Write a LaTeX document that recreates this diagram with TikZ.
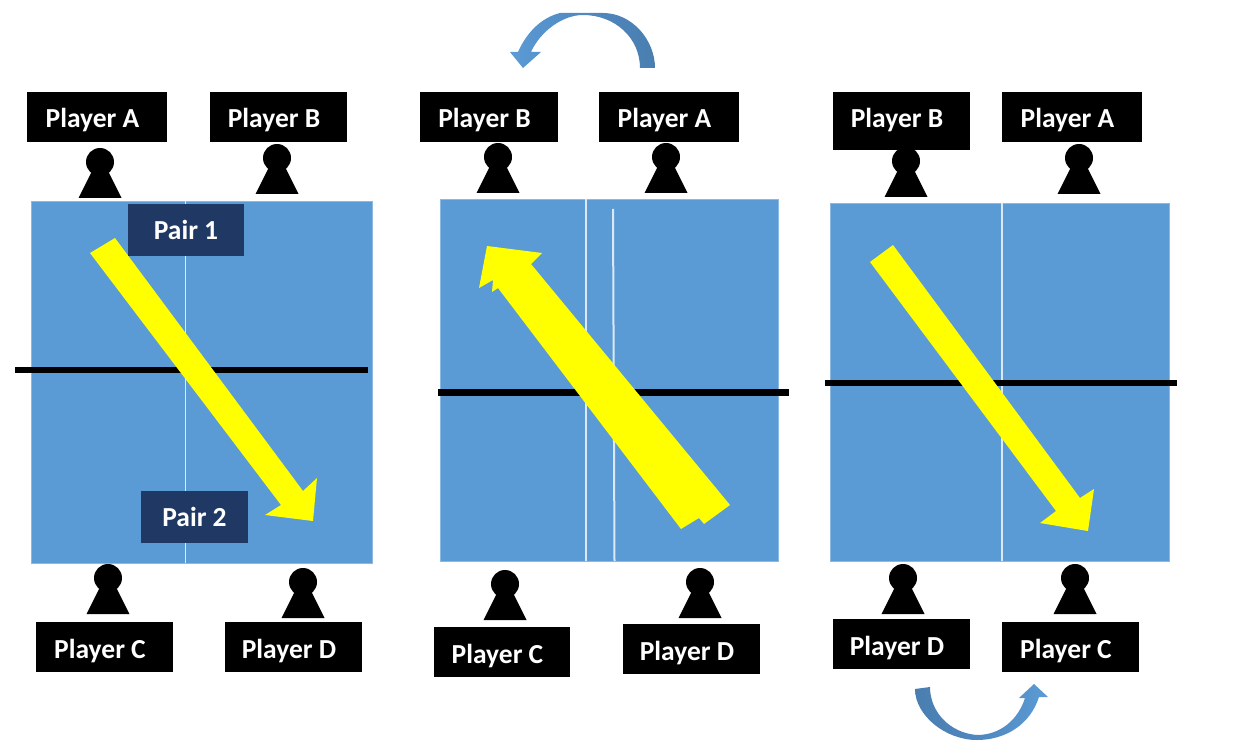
\documentclass[tikz,border=0pt]{standalone}
\usepackage{fontspec}
\setmainfont{Carlito}
\definecolor{tablecol}{HTML}{5B9BD5}
\definecolor{paircol}{HTML}{1F3864}
\definecolor{arrowdark}{HTML}{4A7EB0}
\definecolor{arrowmid}{HTML}{5088C0}
\definecolor{linecol}{HTML}{DCE8F5}
\definecolor{bigyellow}{HTML}{FFFF00}
\tikzset{
  playerbox/.style={fill=black,text=white,inner sep=0pt,font=\fontsize{27.5}{30}\selectfont\bfseries,minimum width=137pt,minimum height=50pt},
  pairbox/.style={fill=paircol,text=white,inner sep=0pt,font=\fontsize{27.5}{30}\selectfont\bfseries},
  tablebox/.style={fill=tablecol,draw=tablecol!70!white,line width=0.8pt},
  tableline/.style={draw=linecol,line width=1.4pt},
  netline/.style={draw=black,line cap=butt},
  bigarrow/.style={fill=bigyellow},
}
\newcommand{\pawn}[3]{% name, x, bottom y
  \fill[black] (#2,#3-36) circle (14);
  \fill[black] (#2-8,#3-27) -- (#2+8,#3-27) -- (#2+21.5,#3) -- (#2-21.5,#3) -- cycle;
  \coordinate (#1) at (#2,#3);
}
\newcommand{\lbl}[1]{\hspace*{-9pt}\smash{\raisebox{-11pt}{#1}}}
\newcommand{\plbl}[1]{\smash{\raisebox{-9.5pt}{#1}}}
\begin{document}
\begin{tikzpicture}[x=1pt,y=-1pt]
\useasboundingbox (0,0) rectangle (1251,754);
% tables
\path[tablebox] (31,201) rectangle (372.5,563);
\path[tablebox] (440,199) rectangle (778,561);
\path[tablebox] (830,203) rectangle (1169.5,561);
% table centre lines
\draw[tableline,line width=0.9pt] (185,201) -- (185,563);
\draw[tableline] (586,199) -- (586,561);
\draw[tableline,line width=2pt] (613,209) -- (614.5,561);
\draw[tableline,line width=1.6pt] (1002,203) -- (1002,561);
% nets
\draw[netline,line width=5.5pt] (15,370) -- (368,370);
\draw[netline,line width=7pt] (438,392) -- (789,392);
\draw[netline,line width=6pt] (825,383) -- (1177,383);
% yellow arrows
\fill[bigarrow] (90,253) -- (115,238) -- (303,491) -- (317,478) -- (313,521) -- (265,515) -- (281,505) -- cycle;
\fill[bigarrow] (730,505) -- (704,524) -- (699,518) -- (681,529) -- (498,288) -- (492,292) -- (493,280) -- (479,288) -- (487,246) -- (542,253) -- (531,264) -- cycle;
\fill[bigarrow] (870,262) -- (893,245) -- (1080,498) -- (1094,489) -- (1088,531) -- (1040,523) -- (1056,511) -- cycle;
% pair labels
\node[pairbox,minimum width=116pt,minimum height=52pt] (pair1) at (186,230) {\plbl{Pair 1}};
\node[pairbox,minimum width=107pt,minimum height=52pt] (pair2) at (194.5,517) {\plbl{Pair 2}};
% pawns
\pawn{pa}{100}{198}
\pawn{pb}{277}{194}
\pawn{pc}{108}{614}
\pawn{pd}{303}{618}
\pawn{mb}{498}{193}
\pawn{ma}{666}{193}
\pawn{mc}{505}{620}
\pawn{md}{700}{618}
\pawn{rb}{906}{197}
\pawn{ra}{1079}{194}
\pawn{rd}{903}{614}
\pawn{rc}{1075}{614}
% player labels
\node[playerbox,minimum width=140pt] (la) at (97,117) {\lbl{Player A}};
\node[playerbox] (lb) at (278.5,117) {\lbl{Player B}};
\node[playerbox] (lc) at (104.5,647) {\lbl{Player C}};
\node[playerbox] (ld) at (293.5,647) {\lbl{Player D}};
\node[playerbox,minimum width=138pt] (nb) at (489,117) {\lbl{Player B}};
\node[playerbox,minimum width=140pt] (na) at (669,117) {\lbl{Player A}};
\node[playerbox,minimum width=136pt] (nc) at (502,652) {\lbl{Player C}};
\node[playerbox] (nd) at (691.5,649) {\lbl{Player D}};
\node[playerbox,minimum height=58pt] (sb) at (901.5,121) {\smash{\hspace*{-9pt}\raisebox{-7pt}{Player B}}};
\node[playerbox,minimum width=140pt] (sa) at (1072,117) {\lbl{Player A}};
\node[playerbox] (sd) at (901.5,644) {\lbl{Player D}};
\node[playerbox] (sc) at (1070.5,647) {\lbl{Player C}};
% curved arrows
\path[left color=tablecol,right color=arrowdark,middle color=arrowmid]
  (655,68) .. controls (655,40) and (632,13) .. (603,13) -- (560,13)
  .. controls (540,18) and (526,34) .. (518,52) -- (510,52) -- (523,68) -- (541,52) -- (531,52)
  .. controls (540,32) and (562,15) .. (583,15)
  .. controls (615,15) and (640,38) .. (640,68) -- cycle;
\path[left color=arrowdark,right color=tablecol,middle color=arrowmid]
  (915,689) .. controls (915,715) and (945,740) .. (977,740)
  .. controls (1005,740) and (1030,725) .. (1039,697) -- (1048,697) -- (1034,684) -- (1019,698) -- (1025,698)
  .. controls (1018,720) and (1000,735) .. (977,735)
  .. controls (950,733) and (930,712) .. (930,687) -- cycle;
\end{tikzpicture}
\end{document}
